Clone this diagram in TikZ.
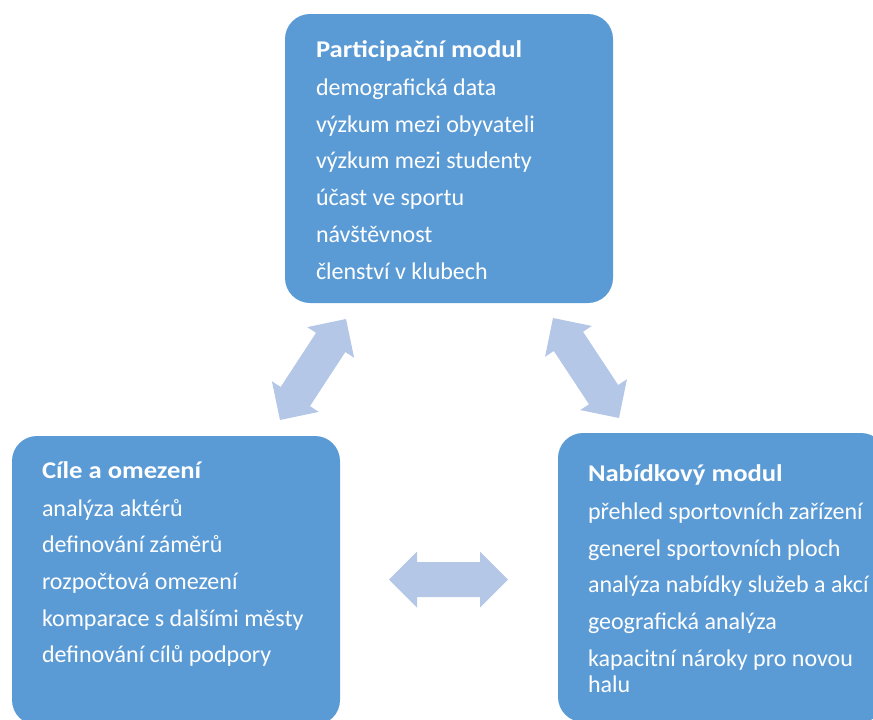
\documentclass[tikz,border=0pt]{standalone}
\usepackage{fontspec}
\setmainfont{Carlito}
\newfontfamily\modtitlefont[FakeStretch=1.11]{Carlito}
\usepackage{xcolor}
\usetikzlibrary{positioning}
\usetikzlibrary{calc}
\definecolor{modblue}{HTML}{5B9BD5}
\definecolor{arrowblue}{HTML}{B4C7E7}

\newcommand{\biarrow}[2]{%
\fill[arrowblue] (#1) -- ($(#1)!28pt!(#2)!28pt!90:(#2)$) -- ($(#1)!28pt!(#2)!17.5pt!90:(#2)$)
	-- ($(#2)!28pt!(#1)!17.5pt!-90:(#1)$) -- ($(#2)!28pt!(#1)!28pt!-90:(#1)$) -- (#2)
	-- ($(#2)!28pt!(#1)!28pt!90:(#1)$) -- ($(#2)!28pt!(#1)!17.5pt!90:(#1)$)
	-- ($(#1)!28pt!(#2)!17.5pt!-90:(#2)$) -- ($(#1)!28pt!(#2)!28pt!-90:(#2)$) -- cycle;}
\newcommand{\modtitle}[1]{\rule{0pt}{20pt}{\modtitlefont\bfseries #1}}

\begin{document}
\begin{tikzpicture}[x=1pt, y=-1pt,
	modbox/.style={draw=none, fill=modblue, rounded corners=25pt, inner sep=0pt, minimum width=328pt, minimum height=289pt},
	modtext/.style={anchor=north west, inner sep=0pt, align=left, text=white, font=\fontsize{24}{26}\selectfont}]

\useasboundingbox (0,0) rectangle (873,720);
\clip (0,0) rectangle (873,720);

\node[modbox] (part) at (449,158.5) {};
\node[modbox] (cile) at (176,580.5) {};
\node[modbox] (nab) at (722,577.5) {};

\node[modtext, below right=23.5pt and 31pt of part.north west] (parttext) {\modtitle{Participační modul}\\[12pt]
	demografická data\\[10.7pt] výzkum mezi obyvateli\\[10.7pt] výzkum mezi studenty\\[10.7pt]
	účast ve sportu\\[10.7pt] návštěvnost\\[10.7pt] členství v klubech};
\node[modtext, below right=22pt and 30pt of cile.north west] (ciletext) {\modtitle{Cíle a omezení}\\[12pt]
	analýza aktérů\\[10.7pt] definování záměrů\\[10.7pt] rozpočtová omezení\\[10.7pt]
	komparace s dalšími městy\\[10.7pt] definování cílů podpory};
\node[modtext, below right=28.5pt and 30pt of nab.north west] (nabtext) {\modtitle{Nabídkový modul}\\[12pt]
	přehled sportovních zařízení\\[10.7pt] generel sportovních ploch\\[10.7pt] analýza nabídky služeb a akcí\\[10.7pt]
	geografická analýza\\[10.7pt] kapacitní nároky pro novou\\ halu};

\coordinate (pc1) at (346,319);
\coordinate (pc2) at (280,420);
\coordinate (pn1) at (553,318);
\coordinate (pn2) at (619,418);
\coordinate (cn1) at (389,579.5);
\coordinate (cn2) at (508,579.5);

\biarrow{pc1}{pc2}
\biarrow{pn1}{pn2}
\biarrow{cn1}{cn2}

\end{tikzpicture}
\end{document}
